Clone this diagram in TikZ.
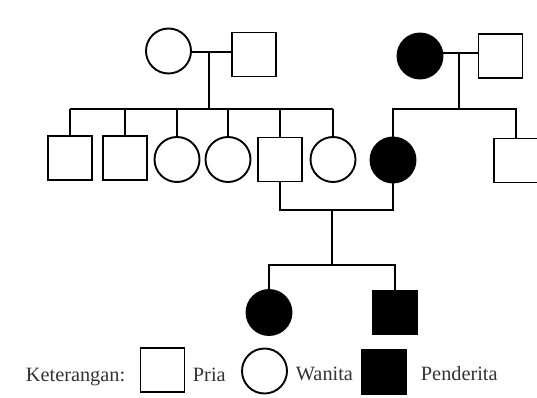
\documentclass[tikz,border=0pt]{standalone}
\usepackage{fontspec}
\setmainfont{Liberation Serif}
\usetikzlibrary{calc}
\begin{document}
\begin{tikzpicture}[x=1pt, y=-1pt, line width=1.9pt,
  male/.style={draw, rectangle, minimum size=44pt, inner sep=0pt},
  female/.style={draw, circle, minimum size=45pt, inner sep=0pt},
  affected/.style={fill=black},
  legend/.style={font=\fontsize{20.3}{24}\selectfont, text=black!80, inner sep=0pt, anchor=base west}]
\useasboundingbox (0,0) rectangle (537,398);
% generation I
\node[female] (I1) at (168.5,51) {};
\node[male] (I2) at (254,54.5) {};
\node[female,affected] (I3) at (420,56) {};
\node[male] (I4) at (500.5,56) {};
\coordinate (m1) at (209,52);
\coordinate (m2) at (459,53);
\coordinate (s1) at (209,109);
\coordinate (s2) at (459,109);
\draw (m1 -| I1.east) -- (m1 -| I2.west);
\draw (m2 -| I3.east) -- (m2 -| I4.west);
\draw (m1) -- (s1);
\draw (m2) -- (s2);
% generation II
\node[male] (II1) at (70,158) {};
\node[male] (II2) at (125,158) {};
\node[female] (II3) at (177,159.5) {};
\node[female] (II4) at (228,159.5) {};
\node[male] (II5) at (280,159.5) {};
\node[female] (II6) at (333,159.5) {};
\node[female,affected] (II7) at (393,160) {};
\node[male] (II8) at (516,160.5) {};
\draw (II1.north |- s1) -- (II6.north |- s1);
\foreach \n in {II1,II2,II3,II4,II5,II6}
  \draw (\n.north) -- (\n.north |- s1);
\draw (II7.north) |- (s2) -| (II8.north);
% marriage II-5 x II-7
\coordinate (m3) at (332,210);
\coordinate (s3) at (332,265);
\draw (II5.south) |- (m3) -| (II7.south);
\draw (m3) -- (s3);
% generation III
\node[female,affected] (III1) at (269,312.5) {};
\node[male,affected] (III2) at (395,312.5) {};
\draw (III1.north) |- (s3) -| (III2.north);
% legend
\node[legend] (ket) at (25,381.5) {Keterangan:};
\node[male] (L1) at (162.5,370) {};
\node[legend] (pria) at (192,381.5) {Pria};
\node[female] (L2) at (264.5,371) {};
\node[legend] (wanita) at (295,380.5) {Wanita};
\node[male,affected] (L3) at (384,372) {};
\node[legend] (penderita) at (420,380.5) {Penderita};
\end{tikzpicture}
\end{document}
